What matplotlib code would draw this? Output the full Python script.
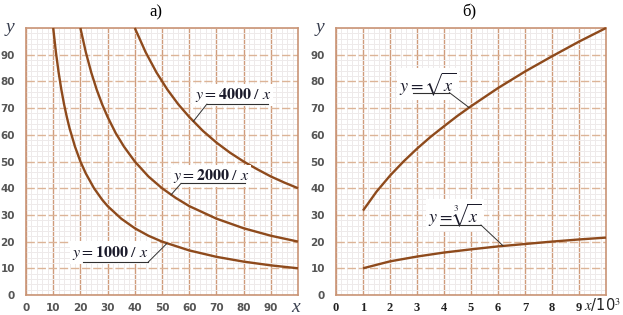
import matplotlib
matplotlib.use("Agg")
import matplotlib.pyplot as plt
from matplotlib.ticker import MultipleLocator

plt.rcParams['mathtext.fontset'] = 'stix'

# ---- data ----
x_1000 = [10, 11, 12, 13, 14, 15, 16, 18, 20, 22, 25, 28, 30, 35, 40, 45, 50, 60, 70, 80, 90, 100]
y_1000 = [100, 90.9, 83.3, 76.9, 71.4, 66.7, 62.5, 55.6, 50, 45.5, 40, 35.7, 33.3, 28.6, 25, 22.2, 20, 16.7, 14.3, 12.5, 11.1, 10]
x_2000 = [20, 22, 24, 26, 28, 30, 33, 36, 40, 45, 50, 55, 60, 70, 80, 90, 100]
y_2000 = [100, 90.9, 83.3, 76.9, 71.4, 66.7, 60.6, 55.6, 50, 44.4, 40, 36.4, 33.3, 28.6, 25, 22.2, 20]
x_4000 = [40, 44, 48, 52, 56, 60, 65, 70, 75, 80, 85, 90, 95, 100]
y_4000 = [100, 90.9, 83.3, 76.9, 71.4, 66.7, 61.5, 57.1, 53.3, 50, 47.1, 44.4, 42.1, 40]
x_sqrt = [1, 1.5, 2, 2.5, 3, 3.5, 4, 4.5, 5, 6, 7, 8, 9, 10]
y_sqrt = [31.6, 38.7, 44.7, 50, 54.8, 59.2, 63.2, 67.1, 70.7, 77.5, 83.7, 89.4, 94.9, 100]
x_cbrt = [1, 2, 3, 4, 5, 6, 7, 8, 9, 10]
y_cbrt = [10, 12.6, 14.4, 15.9, 17.1, 18.2, 19.1, 20, 20.8, 21.5]

left_xticks = [0, 10, 20, 30, 40, 50, 60, 70, 80, 90]
right_xticks = [0, 1, 2, 3, 4, 5, 6, 7, 8, 9]
yticks = [0, 10, 20, 30, 40, 50, 60, 70, 80, 90]

CURVE = '#8e4a1c'
MAJ_V = '#cf9c7c'
MAJ_H = '#dcb497'
MINOR = '#eeeaea'
SPINE = '#c99475'
LEADER = '#303030'

fig = plt.figure(figsize=(6.23, 3.15), dpi=100)
axL = fig.add_axes([26/623, 20/315, 272/623, 267/315])
axR = fig.add_axes([336/623, 20/315, 270/623, 267/315])


def style(ax, xmax, xmaj, xmin):
    ax.set_xlim(0, xmax)
    ax.set_ylim(0, 100)
    ax.xaxis.set_major_locator(MultipleLocator(xmaj))
    ax.xaxis.set_minor_locator(MultipleLocator(xmin))
    ax.yaxis.set_major_locator(MultipleLocator(10))
    ax.yaxis.set_minor_locator(MultipleLocator(2))
    ax.grid(which='minor', color=MINOR, lw=0.7)
    ax.grid(which='major', axis='x', color=MAJ_V, lw=1.0)
    ax.grid(which='major', axis='y', color=MAJ_H, lw=1.0, ls=(0, (6, 2)))
    ax.set_axisbelow(True)
    for s in ax.spines.values():
        s.set_color(SPINE)
        s.set_linewidth(1.2)
    ax.tick_params(which='both', length=0)
    ax.set_yticks(yticks)
    ax.set_yticklabels([str(v) for v in yticks], fontfamily='DejaVu Sans',
                       fontweight='bold', fontsize=7.5, color='#555555')
    ax.tick_params(axis='y', pad=8)
    ax.text(-0.058, 1.0, 'y', transform=ax.transAxes, fontfamily='Liberation Serif',
            style='italic', fontsize=14, color='#3a4050', ha='center', va='center')


style(axL, 100, 10, 2)
style(axR, 10, 1, 0.2)

axL.set_xticks(left_xticks)
axL.set_xticklabels([str(v) for v in left_xticks], fontfamily='DejaVu Sans',
                    fontweight='bold', fontsize=7.5, color='#555555')
axL.tick_params(axis='x', pad=6)
axR.set_xticks(right_xticks)
axR.set_xticklabels([str(v) for v in right_xticks], fontfamily='Liberation Serif',
                    fontweight='bold', fontsize=9, color='#222222')
axR.tick_params(axis='x', pad=5)

axL.text(0.99, -0.045, 'x', transform=axL.transAxes, fontfamily='Liberation Serif',
         style='italic', fontsize=14, color='#3a4050', ha='center', va='center')
fig.text(621/623, 1 - 305/315, r'$x$/10$^3$', fontsize=10.5,
         color='#222222', ha='right', va='center')

# curves
for xs, ys in [(x_1000, y_1000), (x_2000, y_2000), (x_4000, y_4000)]:
    axL.plot(xs, ys, color=CURVE, lw=1.7, solid_capstyle='butt', clip_on=False, zorder=3)
for xs, ys in [(x_sqrt, y_sqrt), (x_cbrt, y_cbrt)]:
    axR.plot(xs, ys, color=CURVE, lw=1.7, solid_capstyle='butt', clip_on=False, zorder=3)

# titles
fig.text(156/623, 1 - 12/315, 'а)', fontfamily='Liberation Serif', fontsize=12,
         ha='center', va='center')
fig.text(469/623, 1 - 12/315, 'б)', fontfamily='Liberation Serif', fontsize=12,
         ha='center', va='center')

box = dict(facecolor='white', edgecolor='none', pad=1.5)


def label(ax, tx, ty, txt, ul, lead, fs=11.5):
    ax.text(tx, ty, txt, fontsize=fs, ha='center', va='center', color='#1a1a2a',
            bbox=box, zorder=4)
    (x0, x1, yu), (px, py), side = ul, lead[:2], lead[2]
    ax.plot([x0, x1], [yu, yu], color=LEADER, lw=0.8, zorder=5)
    sx = x0 if side == 'L' else x1
    ax.plot([sx, px], [yu, py], color=LEADER, lw=0.7, zorder=5)


label(axL, 76, 75.0, r'$y = \mathbf{4000}\ /\ x$', (66.5, 89, 71.5), (61.5, 65.0, 'L'))
label(axL, 68, 44.7, r'$y = \mathbf{2000}\ /\ x$', (57, 80.5, 41.8), (53.3, 37.5, 'L'))
label(axL, 31, 15.9, r'$y = \mathbf{1000}\ /\ x$', (21, 45, 12.4), (51.8, 19.3, 'R'))
label(axR, 3.4, 79.0, r'$y = \sqrt{x}$', (2.85, 4.2, 75.8), (4.93, 70.2, 'R'), fs=13)
label(axR, 4.4, 30.0, r'$y = \sqrt[3]{x}$', (3.85, 5.37, 26.2), (6.19, 18.4, 'R'), fs=13)

fig.savefig('out.png', dpi=100)
